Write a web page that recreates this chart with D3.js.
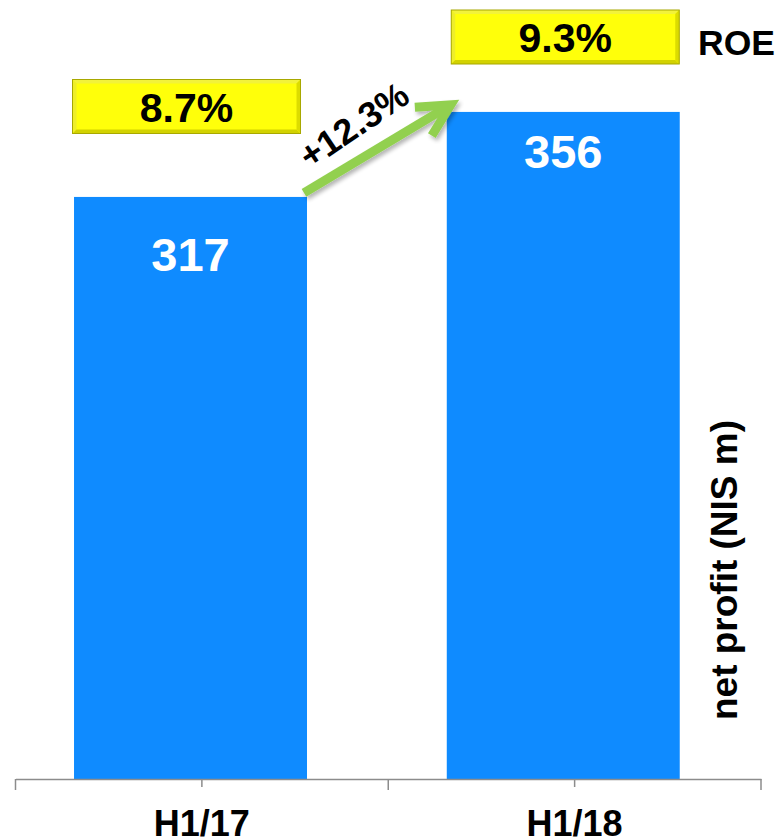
<!DOCTYPE html>
<html>
<head>
<meta charset="utf-8">
<script src="https://cdn.jsdelivr.net/npm/d3@7"></script>
<style>
  html, body { margin: 0; padding: 0; background: #fff; }
  svg { display: block; font-family: Arial, "Liberation Sans", sans-serif; }
</style>
</head>
<body>
<svg id="chart" width="781" height="837"></svg>
<script>
// Half-year net profit (NIS m) and return on equity
const periods = ["H1/17", "H1/18"];
const netProfit = [317, 356];
const roe = [8.7, 9.3];
const growthLabel = "+12.3%";
const axisTitle = "net profit (NIS m)";
const roeTitle = "ROE";

// layout
const axisY = 779, axisX0 = 15.5, axisX1 = 761;
const barColor = "#0F8BFF";
const valueLabelDy = [74, 56];
const badgeShift = [-4, 2];

const svg = d3.select("#chart");

const x = d3.scaleBand().domain(periods).range([axisX0, axisX1]).padding(0);
const y = d3.scaleLinear().domain([50, 400]).range([axisY, 16]);
// ROE badges sit on their own secondary scale
const yRoe = d3.scaleLinear().domain(d3.extent(roe)).range([106.5, 37]);

const barW = x.bandwidth() * 0.625;
const barX = p => x(p) + x.bandwidth() * 0.157;
const barCx = p => barX(p) + barW / 2;

// drop shadow for the arrow
const defs = svg.append("defs");
const f = defs.append("filter").attr("id", "shadow")
  .attr("x", "-20%").attr("y", "-20%").attr("width", "140%").attr("height", "140%");
f.append("feGaussianBlur").attr("in", "SourceAlpha").attr("stdDeviation", 2);
f.append("feOffset").attr("dx", 2).attr("dy", 3).attr("result", "b");
f.append("feComponentTransfer").append("feFuncA").attr("type", "linear").attr("slope", 0.3);
const m = f.append("feMerge");
m.append("feMergeNode");
m.append("feMergeNode").attr("in", "SourceGraphic");

// bars
svg.append("g").selectAll("rect").data(periods).join("rect")
  .attr("x", d => barX(d))
  .attr("y", (d, i) => y(netProfit[i]))
  .attr("width", barW)
  .attr("height", (d, i) => axisY - y(netProfit[i]))
  .attr("fill", barColor);

// value labels inside bars
svg.append("g").selectAll("text").data(periods).join("text")
  .attr("x", d => barCx(d))
  .attr("y", (d, i) => y(netProfit[i]) + valueLabelDy[i])
  .attr("text-anchor", "middle")
  .attr("fill", "#fff")
  .attr("font-weight", "bold")
  .attr("font-size", 47)
  .text((d, i) => netProfit[i]);

// x axis: short ticks at category centres, long ticks at category bounds
const axis = d3.axisBottom(x).tickSize(8).tickSizeOuter(0).tickFormat("");
const ax = svg.append("g").attr("transform", `translate(0,${axisY})`).call(axis);
ax.select(".domain").attr("stroke", "#8c8c8c").attr("stroke-width", 1.5);
ax.selectAll(".tick line").attr("stroke", "#8c8c8c").attr("stroke-width", 1.5);
const bounds = periods.map(p => x(p)).concat([x(periods[periods.length - 1]) + x.bandwidth()]);
ax.selectAll(".bound").data(bounds).join("line")
  .attr("class", "bound")
  .attr("x1", d => d).attr("x2", d => d)
  .attr("y1", 0).attr("y2", 11)
  .attr("stroke", "#8c8c8c").attr("stroke-width", 1.5);

svg.append("g").selectAll("text").data(periods).join("text")
  .attr("x", d => x(d) + x.bandwidth() / 2)
  .attr("y", 836)
  .attr("text-anchor", "middle")
  .attr("font-weight", "bold")
  .attr("font-size", 36)
  .attr("fill", "#000")
  .text(d => d);

// ROE badges
const boxW = 228, boxH = 54, bev = 4;
const badge = svg.append("g").selectAll("g").data(periods).join("g")
  .attr("transform", (d, i) => `translate(${barCx(d) - boxW / 2 + badgeShift[i]},${yRoe(roe[i]) - boxH / 2})`);
badge.append("rect").attr("width", boxW).attr("height", boxH).attr("fill", "#ffff0a");
badge.append("polygon").attr("points", `0,0 ${boxW},0 ${boxW - bev},${bev} ${bev},${bev}`).attr("fill", "#f2f23a");
badge.append("polygon").attr("points", `0,0 ${bev},${bev} ${bev},${boxH - bev} 0,${boxH}`).attr("fill", "#eeee2a");
badge.append("polygon").attr("points", `0,${boxH} ${bev},${boxH - bev} ${boxW - bev},${boxH - bev} ${boxW},${boxH}`).attr("fill", "#d2d200");
badge.append("polygon").attr("points", `${boxW},0 ${boxW},${boxH} ${boxW - bev},${boxH - bev} ${boxW - bev},${bev}`).attr("fill", "#dcdc00");
badge.append("rect").attr("width", boxW).attr("height", boxH).attr("fill", "none")
  .attr("stroke", "#a8a800").attr("stroke-width", 1);
badge.append("text")
  .attr("x", boxW / 2).attr("y", boxH / 2 + 15)
  .attr("text-anchor", "middle")
  .attr("font-weight", "bold").attr("font-size", 41).attr("fill", "#000")
  .text((d, i) => roe[i].toFixed(1) + "%");

svg.append("text")
  .attr("x", 698).attr("y", 55)
  .attr("font-weight", "bold").attr("font-size", 35.5).attr("fill", "#000")
  .text(roeTitle);

// growth arrow from the first bar's top corner to the second bar
const p0 = [barX(periods[0]) + barW - 3, y(netProfit[0]) - 4];
const p1 = [barX(periods[1]) + 4, y(netProfit[1]) - 7];
const dx = p1[0] - p0[0], dy = p1[1] - p0[1];
const len = Math.hypot(dx, dy);
const u = [dx / len, dy / len];
const n = [u[1], -u[0]]; // normal pointing up-left, away from the bars
const back = 32, side = 16.5;
const w1 = [p1[0] - u[0] * back + n[0] * side, p1[1] - u[1] * back + n[1] * side];
const w2 = [p1[0] - u[0] * back - n[0] * side, p1[1] - u[1] * back - n[1] * side];
const arrow = svg.append("g").attr("filter", "url(#shadow)");
arrow.append("line")
  .attr("x1", p0[0]).attr("y1", p0[1]).attr("x2", p1[0] - u[0] * 4).attr("y2", p1[1] - u[1] * 4)
  .attr("stroke", "#92D050").attr("stroke-width", 9);
arrow.append("polyline")
  .attr("points", [w1, p1, w2].map(p => p.join(",")).join(" "))
  .attr("fill", "none").attr("stroke", "#92D050").attr("stroke-width", 9)
  .attr("stroke-linejoin", "miter").attr("stroke-miterlimit", 10);

// growth label above the arrow, following its slope
const angle = Math.atan2(dy, dx) * 180 / Math.PI;
const mid = [(p0[0] + p1[0]) / 2, (p0[1] + p1[1]) / 2];
const off = 33;
const tx = mid[0] - u[0] * 8 + n[0] * off;
const ty = mid[1] - u[1] * 8 + n[1] * off;
svg.append("text")
  .attr("transform", `translate(${tx},${ty}) rotate(${angle - 3})`)
  .attr("text-anchor", "middle").attr("dy", "0.36em")
  .attr("font-weight", "bold").attr("font-size", 36).attr("fill", "#000")
  .text(growthLabel);

// rotated axis title
svg.append("text")
  .attr("transform", "translate(737,570) rotate(-90)")
  .attr("text-anchor", "middle")
  .attr("font-weight", "bold").attr("font-size", 37).attr("fill", "#000")
  .text(axisTitle);
</script>
</body>
</html>
